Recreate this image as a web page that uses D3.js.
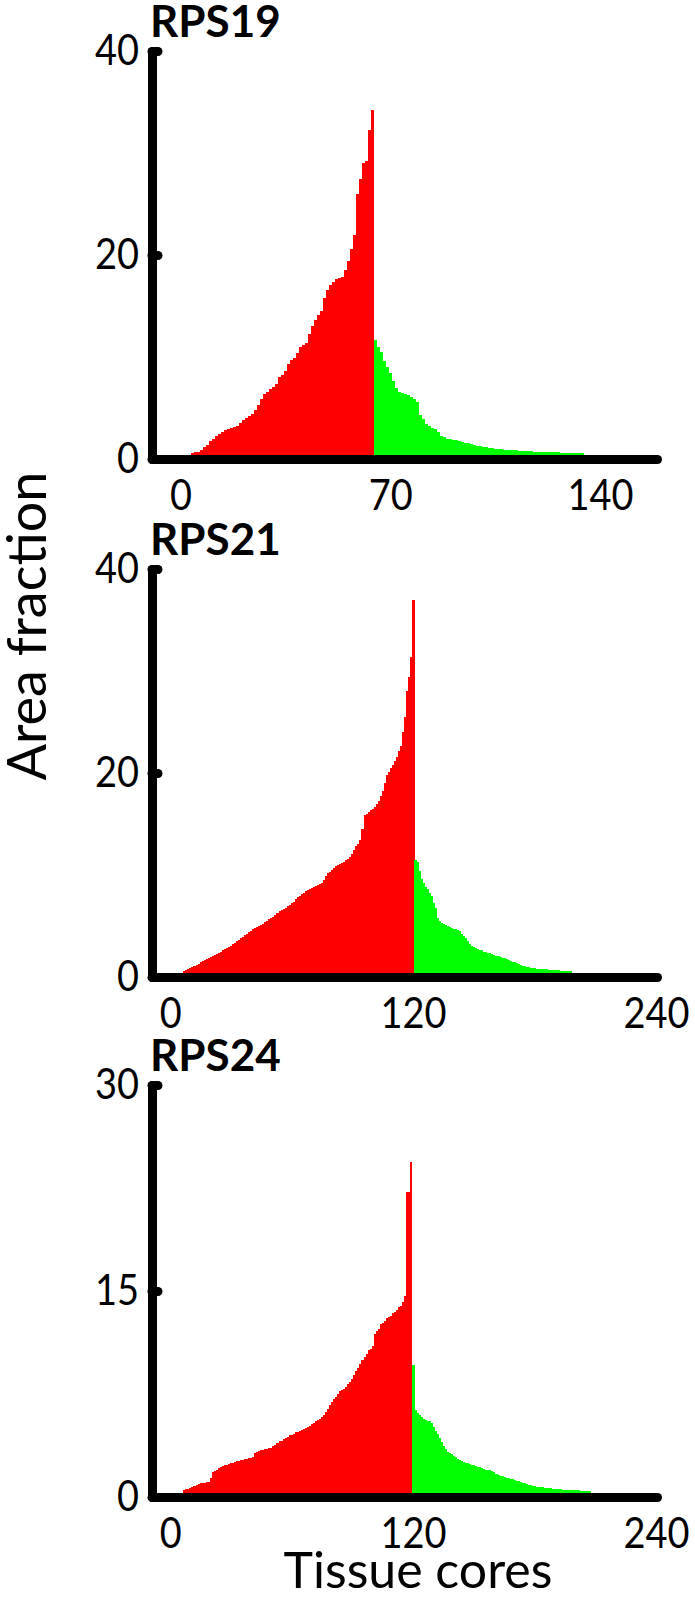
<!DOCTYPE html>
<html>
<head>
<meta charset="utf-8">
<script src="https://cdn.jsdelivr.net/npm/d3@7"></script>
<style>
  html, body { margin: 0; padding: 0; background: #fff; }
  svg { display: block; }
</style>
</head>
<body>
<svg id="chart" width="695" height="1599"></svg>
<script>
// ---------------- DATA ----------------
const panelTitles = ["RPS19", "RPS21", "RPS24"];
const yTickValues1 = [0, 20, 40];
const yTickValues2 = [0, 20, 40];
const yTickValues3 = [0, 15, 30];
const xTickValues1 = [0, 70, 140];
const xTickValues2 = [0, 120, 240];
const xTickValues3 = [0, 120, 240];

// index of first bar of each panel (tissue core number)
const firstCore1 = 4;
const firstCore2 = 7;
const firstCore3 = 7;

// RPS19 — ascending (red) then descending (green)
const red1 = [0.6,0.65,0.7,0.9,1.2,1.4,1.8,2.0,2.3,2.5,2.6,2.8,2.9,3.0,3.1,3.2,3.5,3.8,4.0,4.2,
  4.4,4.8,5.3,5.9,6.4,6.6,6.9,7.1,7.4,8.0,8.2,8.6,9.3,9.7,9.9,10.4,11.0,11.2,11.4,12.3,
  13.0,13.6,14.1,14.5,15.8,16.6,17.1,17.4,17.6,17.7,17.8,18.5,19.4,20.6,22.0,26.0,27.5,29.0,29.2,32.3,34.2];
const green1 = [11.7,11.0,10.5,9.6,9.0,8.4,7.6,7.0,6.6,6.5,6.4,6.3,6.1,5.9,5.6,4.3,3.9,3.4,3.2,3.0,
  2.9,2.6,2.3,2.2,2.0,1.95,1.9,1.85,1.8,1.7,1.6,1.55,1.5,1.4,1.3,1.25,1.2,1.15,1.1,1.05,
  1.0,1.0,0.95,0.92,0.9,0.88,0.86,0.84,0.82,0.8,0.78,0.76,0.74,0.72,0.7,0.7,0.68,0.68,0.66,0.66,
  0.65,0.64,0.63,0.62,0.62,0.61,0.6,0.6,0.58,0.56];

// RPS21
const red2 = [0.6,0.7,0.8,0.9,1.0,1.1,1.2,1.3,1.5,1.6,1.7,1.8,1.9,2.0,2.1,2.2,2.3,2.4,2.5,2.6,
  2.7,2.8,2.9,3.0,3.2,3.3,3.5,3.6,3.8,3.9,4.1,4.2,4.4,4.5,4.7,4.8,4.9,5.0,5.1,5.2,
  5.4,5.5,5.7,5.8,5.9,6.1,6.3,6.5,6.6,6.7,6.8,7.0,7.1,7.3,7.4,7.6,7.8,7.9,8.1,8.2,
  8.4,8.5,8.6,8.7,8.8,8.9,9.0,9.1,9.2,9.5,9.9,10.2,10.3,10.5,10.7,10.9,11.0,11.1,11.2,11.3,
  11.5,11.6,11.8,12.1,12.5,12.8,13.0,13.4,14.5,15.9,16.0,16.2,16.4,16.5,16.7,17.0,17.3,17.7,18.2,19.0,
  19.8,20.1,20.5,20.8,21.2,21.6,22.2,22.6,24.0,25.5,28.0,29.4,31.4,37.0];
const green2 = [11.5,11.3,10.4,9.6,9.2,8.8,8.6,8.2,7.9,7.3,6.8,5.8,5.5,5.3,5.2,5.1,5.0,4.9,4.8,4.75,
  4.7,4.6,4.5,4.2,4.0,3.8,3.5,3.2,3.0,2.9,2.8,2.7,2.65,2.6,2.5,2.45,2.4,2.35,2.3,2.2,
  2.1,2.05,2.0,1.9,1.85,1.8,1.7,1.6,1.5,1.45,1.4,1.3,1.2,1.1,1.05,1.0,0.95,0.9,0.88,0.85,
  0.82,0.8,0.78,0.76,0.75,0.74,0.72,0.7,0.68,0.66,0.65,0.64,0.62,0.61,0.6,0.6,0.58,0.56];

// RPS24
const red3 = [0.5,0.55,0.6,0.65,0.7,0.8,0.9,0.95,1.0,1.0,1.05,1.1,1.1,1.4,1.8,1.9,2.0,2.1,2.2,2.25,
  2.3,2.35,2.4,2.45,2.5,2.55,2.6,2.65,2.7,2.72,2.75,2.8,2.82,2.85,2.9,3.2,3.3,3.35,3.4,3.45,
  3.5,3.52,3.55,3.6,3.7,3.8,3.95,4.05,4.1,4.2,4.3,4.4,4.5,4.55,4.6,4.7,4.75,4.8,4.9,4.95,
  5.0,5.1,5.2,5.3,5.4,5.5,5.6,5.7,5.8,6.0,6.2,6.4,6.7,6.9,7.1,7.3,7.5,7.7,7.8,7.9,
  8.0,8.2,8.4,8.6,8.9,9.2,9.4,9.7,10.0,10.2,10.4,10.7,10.8,11.0,11.9,12.1,12.2,12.6,12.7,12.8,
  13.0,13.1,13.2,13.4,13.5,13.6,13.8,13.9,14.2,14.6,22.2,22.2,24.4];
const green3 = [9.6,6.3,6.1,6.0,5.8,5.7,5.6,5.55,5.5,5.4,5.1,4.8,4.6,4.3,4.0,3.7,3.5,3.3,3.2,3.1,
  3.0,2.9,2.8,2.7,2.6,2.55,2.5,2.45,2.4,2.35,2.3,2.25,2.2,2.15,2.1,2.05,2.0,1.98,1.95,1.9,
  1.8,1.7,1.6,1.55,1.5,1.45,1.4,1.35,1.3,1.28,1.25,1.2,1.15,1.1,1.05,1.0,0.95,0.9,0.85,0.8,
  0.78,0.76,0.74,0.72,0.7,0.68,0.66,0.64,0.62,0.6,0.58,0.57,0.56,0.55,0.54,0.53,0.52,0.51,0.5,0.5,
  0.49,0.48,0.48,0.47,0.46,0.46,0.45,0.45];

// ---------------- LAYOUT ----------------
const FONT = "Lato, 'Open Sans', sans-serif";
const RED = "#ff0000", GREEN = "#00ff00";
const AXIS_W = 9;
const DIGIT_W = 22; // compressed digit width of tick labels

const panels = [
  { title: panelTitles[0], red: red1, green: green1, first: firstCore1,
    yTicks: yTickValues1, xTicks: xTickValues1, xDom: [-9.5, 159], yMax: 40, top: 51, bottom: 459 },
  { title: panelTitles[1], red: red2, green: green2, first: firstCore2,
    yTicks: yTickValues2, xTicks: xTickValues2, xDom: [-9, 240.5], yMax: 40, top: 569, bottom: 977 },
  { title: panelTitles[2], red: red3, green: green3, first: firstCore3,
    yTicks: yTickValues3, xTicks: xTickValues3, xDom: [-9, 240.5], yMax: 30, top: 1085, bottom: 1497 }
];

const svg = d3.select("#chart");
const left = 152, right = 657;

function squeeze(sel) {
  sel.each(function () {
    const t = d3.select(this);
    const n = t.text().length;
    t.attr("textLength", n * DIGIT_W).attr("lengthAdjust", "spacingAndGlyphs");
  });
}

panels.forEach(p => {
  const x = d3.scaleLinear().domain(p.xDom).range([left, right]);
  const y = d3.scaleLinear().domain([0, p.yMax]).range([p.bottom, p.top]);
  const g = svg.append("g");

  const bars = [];
  p.red.forEach((v, i) => bars.push({ core: p.first + i, v, c: RED }));
  p.green.forEach((v, i) => bars.push({ core: p.first + p.red.length + i, v, c: GREEN }));

  g.append("g").selectAll("rect").data(bars).join("rect")
    .attr("x", d => x(d.core - 0.5))
    .attr("width", d => x(d.core + 0.5) - x(d.core - 0.5) + 0.4)
    .attr("y", d => y(d.v))
    .attr("height", d => y(0) - y(d.v))
    .attr("fill", d => d.c)
    .attr("shape-rendering", "crispEdges");

  // y axis
  const ya = g.append("g").attr("transform", `translate(${left},0)`)
    .call(d3.axisLeft(y).tickValues(p.yTicks).tickSizeInner(-6).tickSizeOuter(0).tickPadding(13)
      .tickFormat(d3.format("d")));
  ya.attr("font-family", FONT).attr("font-size", 42);
  ya.select(".domain").attr("stroke", "#000").attr("stroke-width", AXIS_W).attr("stroke-linecap", "round");
  ya.selectAll(".tick line").attr("stroke", "#000").attr("stroke-width", AXIS_W).attr("stroke-linecap", "round");
  ya.selectAll(".tick text").attr("fill", "#000").attr("dy", "0.33em").call(squeeze);

  // x axis
  const xa = g.append("g").attr("transform", `translate(0,${p.bottom})`)
    .call(d3.axisBottom(x).tickValues(p.xTicks).tickSizeInner(0).tickSizeOuter(0).tickPadding(21)
      .tickFormat(d3.format("d")));
  xa.attr("font-family", FONT).attr("font-size", 42);
  xa.select(".domain").attr("stroke", "#000").attr("stroke-width", AXIS_W).attr("stroke-linecap", "round");
  xa.selectAll(".tick line").remove();
  xa.selectAll(".tick text").attr("fill", "#000").call(squeeze);

  // title
  g.append("text")
    .attr("x", left - 2)
    .attr("y", p.top - 14)
    .attr("font-family", FONT).attr("font-weight", "bold").attr("font-size", 44)
    .text(p.title);
});

// axis titles
svg.append("text")
  .attr("transform", "translate(46,626) rotate(-90)")
  .attr("text-anchor", "middle")
  .attr("font-family", FONT).attr("font-size", 54)
  .text("Area fraction");

svg.append("text")
  .attr("x", 418).attr("y", 1588)
  .attr("text-anchor", "middle")
  .attr("font-family", FONT).attr("font-size", 50)
  .text("Tissue cores");
</script>
</body>
</html>
